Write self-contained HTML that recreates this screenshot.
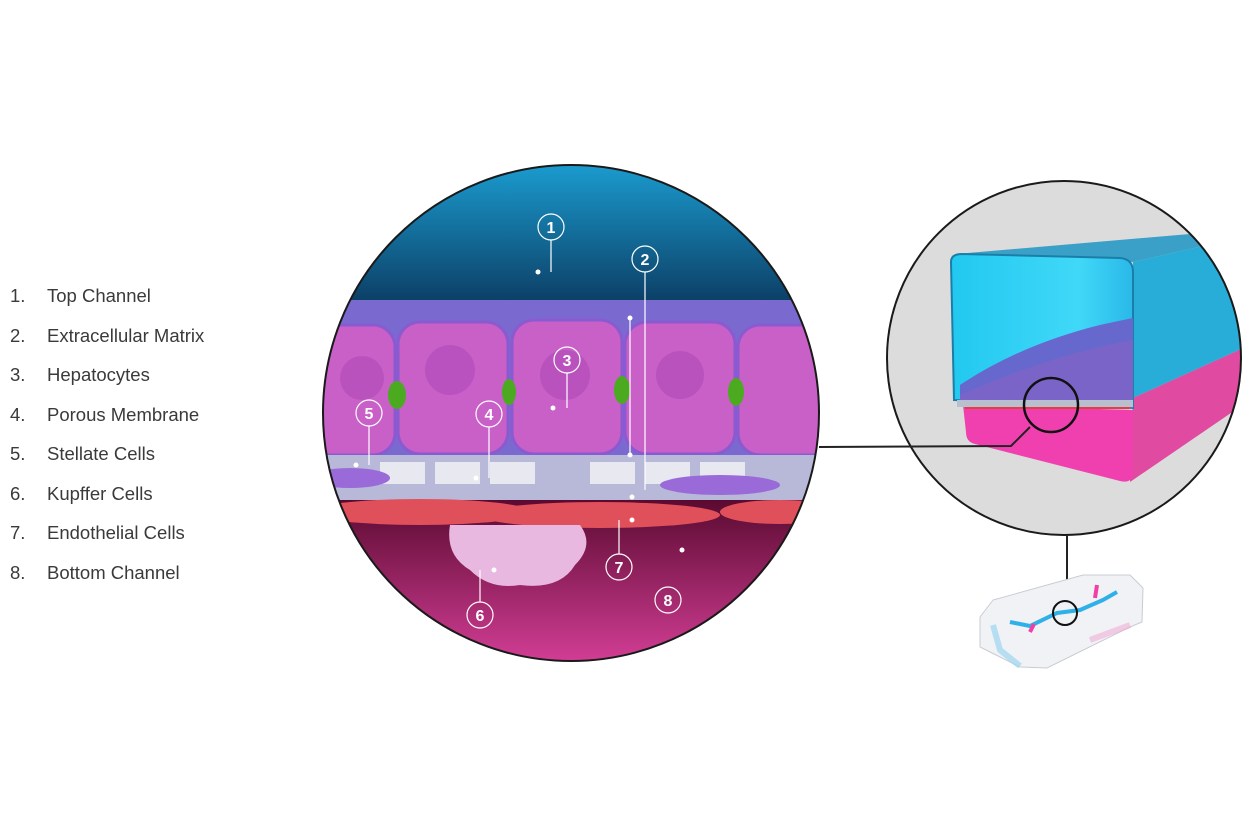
<!DOCTYPE html>
<html><head><meta charset="utf-8"><style>
body{margin:0;background:#fff;width:1254px;height:836px;overflow:hidden;font-family:"Liberation Sans",sans-serif}
.leg{position:absolute;left:10px;font-size:18.5px;color:#3a3a3a}
.leg span{position:absolute;left:37px;white-space:nowrap}
</style></head><body>
<div class="leg" style="top:285px">1.<span>Top Channel</span></div>
<div class="leg" style="top:325px">2.<span>Extracellular Matrix</span></div>
<div class="leg" style="top:364px">3.<span>Hepatocytes</span></div>
<div class="leg" style="top:404px">4.<span>Porous Membrane</span></div>
<div class="leg" style="top:443px">5.<span>Stellate Cells</span></div>
<div class="leg" style="top:483px">6.<span>Kupffer Cells</span></div>
<div class="leg" style="top:522px">7.<span>Endothelial Cells</span></div>
<div class="leg" style="top:562px">8.<span>Bottom Channel</span></div>
<svg width="1254" height="836" style="position:absolute;left:0;top:0">
<defs>
<linearGradient id="top" x1="0" y1="0" x2="0" y2="1"><stop offset="0" stop-color="#1b9ed2"/><stop offset="1" stop-color="#0a3358"/></linearGradient>
<linearGradient id="bot" x1="0" y1="0" x2="0" y2="1"><stop offset="0" stop-color="#5a0a30"/><stop offset="1" stop-color="#d8409a"/></linearGradient>
<linearGradient id="rtop" x1="0" y1="0" x2="1" y2="0"><stop offset="0" stop-color="#22c8f0"/><stop offset="0.7" stop-color="#40d8f8"/><stop offset="1" stop-color="#2ab8e8"/></linearGradient>
<linearGradient id="cells" x1="0" y1="0" x2="1" y2="0"><stop offset="0" stop-color="#8a68d0"/><stop offset="1" stop-color="#6a58c0"/></linearGradient>
<clipPath id="c1"><circle cx="571" cy="413" r="248"/></clipPath>
<clipPath id="c2"><circle cx="1064" cy="358" r="177"/></clipPath>
</defs>
<g clip-path="url(#c1)">
<rect x="320" y="160" width="510" height="160" fill="url(#top)"/>
<rect x="320" y="300" width="510" height="170" fill="#7a6ad0"/>
<g fill="#c860c8" stroke="#8a5ad0" stroke-width="3">
<rect x="290" y="325" width="105" height="130" rx="22"/>
<rect x="398" y="322" width="110" height="132" rx="22"/>
<rect x="512" y="320" width="110" height="134" rx="22"/>
<rect x="625" y="322" width="110" height="132" rx="22"/>
<rect x="738" y="325" width="100" height="130" rx="22"/>
</g>
<g fill="#b04ab8" opacity=".6"><circle cx="450" cy="370" r="25"/><circle cx="565" cy="375" r="25"/><circle cx="680" cy="375" r="24"/><circle cx="362" cy="378" r="22"/></g>
<g fill="#4caa20"><ellipse cx="397" cy="395" rx="9" ry="14"/><ellipse cx="509" cy="392" rx="7" ry="13"/><ellipse cx="622" cy="390" rx="8" ry="14"/><ellipse cx="736" cy="392" rx="8" ry="14"/></g>
<rect x="320" y="455" width="510" height="45" fill="#b8b8d8"/>
<g fill="#e8e8f0"><rect x="380" y="462" width="45" height="22"/><rect x="435" y="462" width="45" height="22"/><rect x="490" y="462" width="45" height="22"/><rect x="590" y="462" width="45" height="22"/><rect x="645" y="462" width="45" height="22"/><rect x="700" y="462" width="45" height="22"/></g>
<ellipse cx="350" cy="478" rx="40" ry="10" fill="#9a6ad8"/><ellipse cx="720" cy="485" rx="60" ry="10" fill="#9a6ad8"/>
<rect x="320" y="500" width="510" height="170" fill="url(#bot)"/>
<g fill="#e0505a"><ellipse cx="420" cy="512" rx="110" ry="13"/><ellipse cx="600" cy="515" rx="120" ry="13"/><ellipse cx="780" cy="512" rx="60" ry="12"/></g>
<path d="M450 525 Q445 555 470 570 Q490 590 520 585 Q560 590 575 565 Q595 545 580 525Z" fill="#e8b8e0"/>
</g>
<circle cx="571" cy="413" r="248" fill="none" stroke="#1a1a1a" stroke-width="2"/>
<g stroke="#fff" stroke-width="1.2" fill="none">
<circle cx="551" cy="227" r="13"/><circle cx="645" cy="259" r="13"/><circle cx="567" cy="360" r="13"/><circle cx="489" cy="414" r="13"/><circle cx="369" cy="413" r="13"/><circle cx="480" cy="615" r="13"/><circle cx="619" cy="567" r="13"/><circle cx="668" cy="600" r="13"/>
<path d="M551 240 V272 M645 272 V490 M630 318 V455 M567 373 V408 M489 427 V478 M369 426 V465 M480 602 V570 M619 554 V520"/>
</g>
<g fill="#fff" font-size="16" font-weight="bold" text-anchor="middle">
<text x="551" y="233">1</text><text x="645" y="265">2</text><text x="567" y="366">3</text><text x="489" y="420">4</text><text x="369" y="419">5</text><text x="480" y="621">6</text><text x="619" y="573">7</text><text x="668" y="606">8</text>
</g>
<g fill="#fff"><circle cx="538" cy="272" r="2.5"/><circle cx="630" cy="318" r="2.5"/><circle cx="553" cy="408" r="2.5"/><circle cx="476" cy="478" r="2.5"/><circle cx="356" cy="465" r="2.5"/><circle cx="494" cy="570" r="2.5"/><circle cx="632" cy="520" r="2.5"/><circle cx="682" cy="550" r="2.5"/><circle cx="630" cy="455" r="2.5"/><circle cx="632" cy="497" r="2.5"/></g>
<g clip-path="url(#c2)">
<rect x="880" y="175" width="370" height="370" fill="#dcdcdc"/>
<!-- right side face -->
<path d="M1133 262 L1250 235 L1250 345 L1133 398Z" fill="#28acd8"/>
<path d="M1133 398 L1250 345 L1250 400 L1130 482Z" fill="#e04aa0"/>
<!-- top face -->
<path d="M956 254 L1190 234 L1250 235 L1133 262Z" fill="#3aa0c8"/>
<!-- pink front bottom -->
<path d="M963 405 L1133 410 L1133 472 Q1133 484 1120 481 L975 444 Q966 442 966 432Z" fill="#f040b0"/>
<!-- cyan front -->
<path d="M951 262 Q951 254 962 254 L1120 258 Q1133 259 1133 272 L1133 408 L954 400Z" fill="url(#rtop)" stroke="#1a7fa8" stroke-width="2"/>
<path d="M960 400 L960 385 Q1020 345 1100 325 L1133 318 L1133 408Z" fill="#7a64c8"/>
<path d="M960 385 Q1020 345 1100 325 L1133 318 L1133 340 Q1050 355 960 395Z" fill="#5a6ad0" opacity=".6"/>
<rect x="957" y="400" width="176" height="7" fill="#b8c0d0"/>
<rect x="965" y="407" width="165" height="2" fill="#e04040"/>
</g>
<circle cx="1064" cy="358" r="177" fill="none" stroke="#1a1a1a" stroke-width="2"/>
<circle cx="1051" cy="405" r="27" fill="none" stroke="#111" stroke-width="2.5"/>
<polyline points="819,447 1011,446 1030,427" fill="none" stroke="#222" stroke-width="2"/>
<line x1="1067" y1="535" x2="1067" y2="600" stroke="#222" stroke-width="2"/>
<path d="M980 617 L993 600 L1083 575 L1130 575 L1143 588 L1142 622 L1130 627 L1047 668 L1020 667 L992 653 L980 647Z" fill="#f0f2f5" stroke="#c8ccd2"/>
<path d="M993 625 L1000 650 L1020 666" fill="none" stroke="#8fd0f0" stroke-width="6" opacity=".6"/>
<path d="M1090 640 L1130 625" fill="none" stroke="#f0a0d0" stroke-width="6" opacity=".5"/>
<path d="M1010 622 L1030 626 L1057 613 L1080 610 L1103 600 L1117 592" stroke="#30b0e8" stroke-width="4" fill="none"/>
<path d="M1030 632 L1034 624 M1097 585 L1095 598" stroke="#f040a8" stroke-width="4" fill="none"/>
<circle cx="1065" cy="613" r="12" fill="none" stroke="#111" stroke-width="2"/>
</svg>
</body></html>
